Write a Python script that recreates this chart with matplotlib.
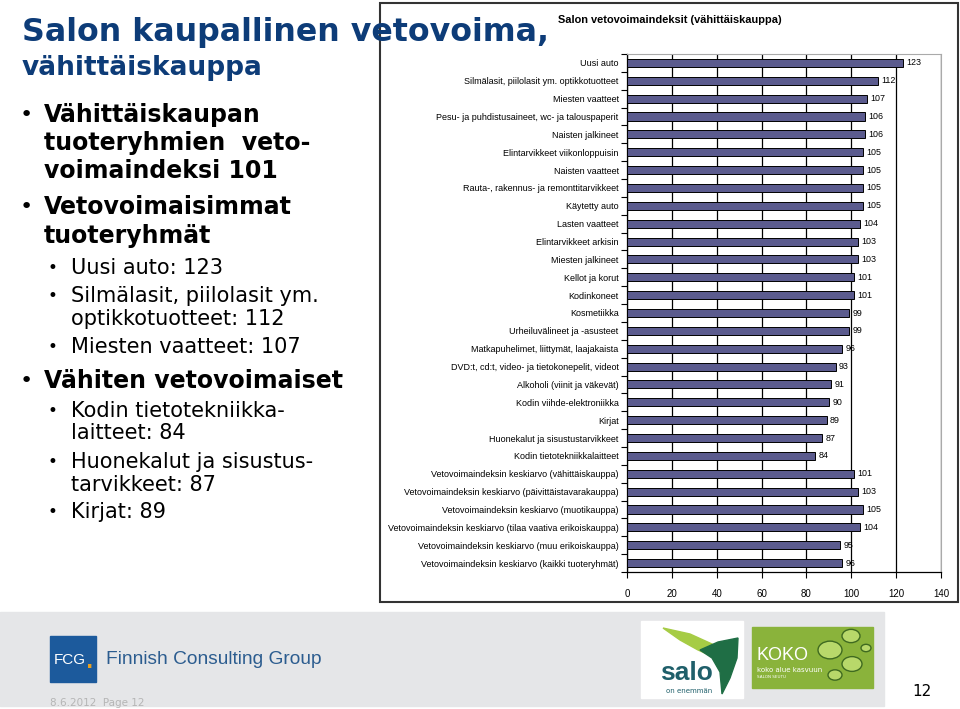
import numpy as np
import matplotlib.pyplot as plt
from matplotlib.patches import Rectangle, Circle, Polygon
from matplotlib.ticker import FixedLocator

categories = [
    'Uusi auto',
    'Silmälasit, piilolasit ym. optikkotuotteet',
    'Miesten vaatteet',
    'Pesu- ja puhdistusaineet, wc- ja talouspaperit',
    'Naisten jalkineet',
    'Elintarvikkeet viikonloppuisin',
    'Naisten vaatteet',
    'Rauta-, rakennus- ja remonttitarvikkeet',
    'Käytetty auto',
    'Lasten vaatteet',
    'Elintarvikkeet arkisin',
    'Miesten jalkineet',
    'Kellot ja korut',
    'Kodinkoneet',
    'Kosmetiikka',
    'Urheiluvälineet ja -asusteet',
    'Matkapuhelimet, liittymät, laajakaista',
    "DVD:t, cd:t, video- ja tietokonepelit, videot",
    'Alkoholi (viinit ja väkevät)',
    'Kodin viihde-elektroniikka',
    'Kirjat',
    'Huonekalut ja sisustustarvikkeet',
    'Kodin tietotekniikkalaitteet',
    'Vetovoimaindeksin keskiarvo (vähittäiskauppa)',
    'Vetovoimaindeksin keskiarvo (päivittäistavarakauppa)',
    'Vetovoimaindeksin keskiarvo (muotikauppa)',
    'Vetovoimaindeksin keskiarvo (tilaa vaativa erikoiskauppa)',
    'Vetovoimaindeksin keskiarvo (muu erikoiskauppa)',
    'Vetovoimaindeksin keskiarvo (kaikki tuoteryhmät)',
]
values = [123, 112, 107, 106, 106, 105, 105, 105, 105, 104, 103, 103, 101,
          101, 99, 99, 96, 93, 91, 90, 89, 87, 84, 101, 103, 105, 104, 95, 96]
xticks = [0, 20, 40, 60, 80, 100, 120, 140]

W, H = 960, 709
fig = plt.figure(figsize=(W / 100, H / 100), dpi=100)


def fx(x):
    return x / W


def fy(y):
    return 1 - y / H


def txt(x, y, s, **kw):
    fig.text(fx(x), fy(y), s, va='center', **kw)


def poly(pts, color, z=2):
    fig.patches.append(Polygon([(fx(a), fy(b)) for a, b in pts], closed=True,
                               transform=fig.transFigure, color=color, zorder=z))


# left-side text
blue = '#0d3c78'
txt(22, 33, 'Salon kaupallinen vetovoima,', fontsize=22.8, fontweight='bold', color=blue)
txt(22, 68, 'vähittäiskauppa', fontsize=19, fontweight='bold', color=blue)

bold_lines = [(115, 'Vähittäiskaupan', True), (143, 'tuoteryhmien  veto-', False),
              (171, 'voimaindeksi 101', False), (207, 'Vetovoimaisimmat', True),
              (236, 'tuoteryhmät', False), (381, 'Vähiten vetovoimaiset', True)]
for y, s, bul in bold_lines:
    if bul:
        txt(20, y, '•', fontsize=16, color='black')
    txt(44, y, s, fontsize=17, fontweight='bold', color='black')

sub_lines = [(268, 'Uusi auto: 123', True), (296, 'Silmälasit, piilolasit ym.', True),
             (319, 'optikkotuotteet: 112', False), (347, 'Miesten vaatteet: 107', True),
             (411, 'Kodin tietotekniikka-', True), (433, 'laitteet: 84', False),
             (462, 'Huonekalut ja sisustus-', True), (485, 'tarvikkeet: 87', False),
             (512, 'Kirjat: 89', True)]
for y, s, bul in sub_lines:
    if bul:
        txt(47, y, '•', fontsize=12, color='black')
    txt(71, y, s, fontsize=15, color='black')

# chart frame
fig.patches.append(Rectangle((fx(380), fy(602)), fx(958) - fx(380), fy(3) - fy(602),
                             transform=fig.transFigure, fill=False,
                             edgecolor='#333333', linewidth=1.5))
txt(558, 20, 'Salon vetovoimaindeksit (vähittäiskauppa)', fontsize=7.9,
    fontweight='bold', family='Liberation Sans')

ax = fig.add_axes([fx(627), fy(572), fx(941) - fx(627), fy(54) - fy(572)])
pos = np.arange(len(categories))
ax.barh(pos, values, height=0.45, color='#5b5b8e', edgecolor='black', linewidth=0.7, zorder=3)
for p, v in zip(pos, values):
    ax.text(v + 1.5, p, str(v), va='center', ha='left', fontsize=6.4,
            family='Liberation Sans', zorder=4)

ax.set_xlim(0, 140)
ax.set_ylim(len(categories) - 0.5, -0.5)
ax.set_xticks(xticks)
ax.set_xticklabels([str(t) for t in xticks], fontsize=7, family='Liberation Sans')
ax.set_yticks(pos)
ax.set_yticklabels(categories, fontsize=6.45, family='Liberation Sans')
ax.tick_params(axis='y', which='major', length=0, pad=6)
ax.yaxis.set_minor_locator(FixedLocator(np.arange(-0.5, len(categories), 1)))
ax.tick_params(axis='y', which='minor', length=4, width=0.8, direction='out')
ax.tick_params(axis='x', length=4, width=0.8, pad=8)
ax.grid(axis='x', color='black', linewidth=0.9, zorder=0)
ax.spines['top'].set_color('#aaaaaa')
ax.spines['right'].set_color('#aaaaaa')
ax.spines['left'].set_linewidth(0.9)
ax.spines['bottom'].set_linewidth(0.9)

# footer band
fig.patches.append(Rectangle((0, fy(706)), fx(884), fy(612) - fy(706),
                             transform=fig.transFigure, color='#e5e6e8', zorder=0))
fig.patches.append(Rectangle((fx(50), fy(682)), fx(46), fy(636) - fy(682),
                             transform=fig.transFigure, color='#1c5a9c', zorder=1))
txt(54, 660, 'FCG', fontsize=11, color='white', family='Liberation Sans', zorder=2)
txt(86, 662, '.', fontsize=14, color='#e8a020', fontweight='bold', zorder=2)
txt(106, 660, 'Finnish Consulting Group', fontsize=13.8, color='#2b5c8f',
    family='Liberation Sans', zorder=2)
txt(50, 703, '8.6.2012  Page 12', fontsize=7.5, color='#b5b5b5', zorder=2)

# salo logo
fig.patches.append(Rectangle((fx(641), fy(698)), fx(102), fy(621) - fy(698),
                             transform=fig.transFigure, color='white', zorder=1))
poly([(663, 628), (690, 634), (712, 644), (730, 656), (716, 658), (698, 650), (680, 640)], '#a6cc45')
poly([(700, 650), (718, 642), (738, 638), (737, 658), (730, 678), (722, 694), (720, 672), (712, 658)], '#1f6e45')
txt(660, 673, 'salo', fontsize=19, color='#1f5f6a', fontweight='bold',
    family='Liberation Sans', zorder=3)
txt(666, 691, 'on enemmän', fontsize=5, color='#1f5f6a', zorder=3)

# koko logo
fig.patches.append(Rectangle((fx(752), fy(688)), fx(121), fy(627) - fy(688),
                             transform=fig.transFigure, color='#8ab33b', zorder=1))
txt(757, 655, 'KOKO', fontsize=13, color='white', family='Liberation Sans', zorder=2)
txt(757, 670, 'koko alue kasvuun', fontsize=5, color='white', zorder=2)
txt(757, 677, 'SALON SEUTU', fontsize=3, color='white', zorder=2)
for cx, cy, r in [(830, 650, 12), (851, 636, 9), (852, 664, 10), (835, 675, 7), (866, 648, 5)]:
    fig.patches.append(Circle((fx(cx), fy(cy)), r / W, transform=fig.transFigure,
                              facecolor='#b8d86a', edgecolor='#3f6a20', linewidth=1, zorder=2))

txt(912, 692, '12', fontsize=11, color='black')

fig.savefig('out.png', dpi=100)
